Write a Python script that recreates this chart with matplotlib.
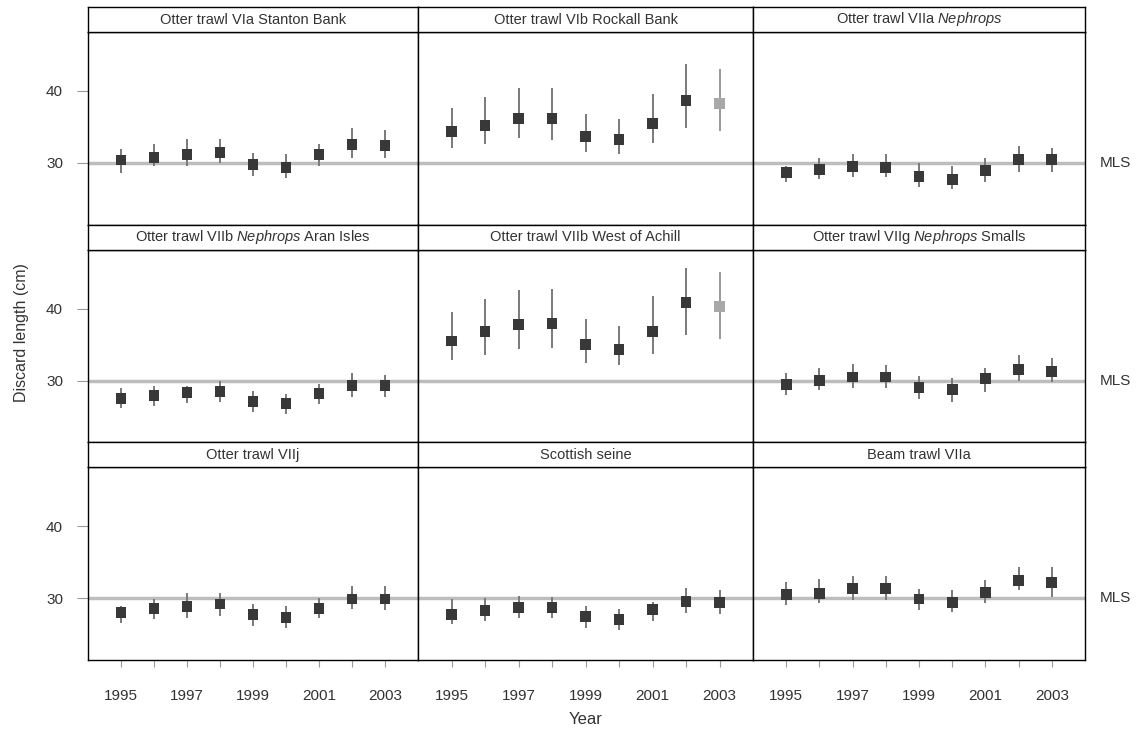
import numpy as np
import matplotlib.pyplot as plt
from matplotlib.transforms import blended_transform_factory

plt.rcParams['font.family'] = ['Liberation Sans', 'DejaVu Sans']
plt.rcParams['mathtext.fontset'] = 'custom'
plt.rcParams['mathtext.rm'] = 'Liberation Sans'
plt.rcParams['mathtext.it'] = 'Liberation Sans:italic'

years = [1995, 1996, 1997, 1998, 1999, 2000, 2001, 2002, 2003]
mls = 30

titles = [
    "Otter trawl VIa Stanton Bank",
    "Otter trawl VIb Rockall Bank",
    r"Otter trawl VIIa $\mathit{Nephrops}$",
    r"Otter trawl VIIb $\mathit{Nephrops}$ Aran Isles",
    "Otter trawl VIIb West of Achill",
    r"Otter trawl VIIg $\mathit{Nephrops}$ Smalls",
    "Otter trawl VIIj",
    "Scottish seine",
    "Beam trawl VIIa",
]

# mean discard length, lower and upper interval (cm)
stanton_mean = [30.4, 30.8, 31.2, 31.4, 29.8, 29.35, 31.1, 32.6, 32.4]
stanton_lo = [28.6, 29.6, 29.6, 30.0, 28.2, 27.9, 29.6, 30.7, 30.7]
stanton_hi = [31.9, 32.6, 33.3, 33.3, 31.4, 31.2, 32.6, 34.9, 34.6]

rockall_mean = [34.3, 35.2, 36.2, 36.2, 33.7, 33.3, 35.5, 38.7, 38.2]
rockall_lo = [32.1, 32.6, 33.5, 33.2, 31.5, 31.3, 32.8, 34.9, 34.4]
rockall_hi = [37.6, 39.2, 40.4, 40.4, 36.8, 36.1, 39.6, 43.7, 43.0]

viia_neph_mean = [28.7, 29.1, 29.5, 29.3, 28.1, 27.7, 29.0, 30.5, 30.5]
viia_neph_lo = [27.3, 27.8, 28.0, 28.1, 26.7, 26.3, 27.4, 28.7, 28.7]
viia_neph_hi = [29.5, 30.7, 31.2, 31.2, 30.0, 29.5, 30.7, 32.3, 32.1]

aran_mean = [27.5, 27.9, 28.3, 28.5, 27.1, 26.8, 28.2, 29.3, 29.3]
aran_lo = [26.2, 26.4, 26.9, 27.0, 25.6, 25.4, 26.8, 27.7, 27.7]
aran_hi = [29.0, 29.3, 29.3, 30.0, 28.6, 28.2, 29.5, 31.0, 30.8]

achill_mean = [35.5, 36.8, 37.8, 37.9, 35.0, 34.3, 36.8, 40.9, 40.3]
achill_lo = [32.9, 33.6, 34.4, 34.5, 32.4, 32.1, 33.7, 36.4, 35.8]
achill_hi = [39.5, 41.4, 42.6, 42.7, 38.5, 37.6, 41.7, 45.7, 45.1]

smalls_mean = [29.5, 30.0, 30.5, 30.5, 29.1, 28.8, 30.3, 31.5, 31.3]
smalls_lo = [28.0, 28.7, 28.9, 28.9, 27.5, 27.0, 28.4, 30.0, 29.8]
smalls_hi = [31.1, 31.8, 32.3, 32.2, 30.7, 30.3, 31.8, 33.5, 33.2]

viij_mean = [28.0, 28.6, 28.9, 29.2, 27.8, 27.3, 28.6, 29.9, 29.9]
viij_lo = [26.6, 27.1, 27.3, 27.5, 26.2, 25.8, 27.2, 28.5, 28.4]
viij_hi = [28.9, 29.9, 30.7, 30.7, 29.2, 28.9, 30.0, 31.7, 31.7]

seine_mean = [27.8, 28.3, 28.7, 28.7, 27.4, 27.1, 28.4, 29.6, 29.4]
seine_lo = [26.4, 26.9, 27.2, 27.3, 25.9, 25.6, 26.9, 28.0, 27.8]
seine_hi = [29.9, 30.0, 30.3, 30.2, 28.9, 28.5, 29.5, 31.4, 31.1]

beam_mean = [30.5, 30.6, 31.4, 31.4, 29.9, 29.4, 30.8, 32.5, 32.2]
beam_lo = [29.0, 29.4, 29.7, 29.8, 28.4, 28.1, 29.4, 31.1, 30.2]
beam_hi = [32.2, 32.7, 33.1, 33.1, 31.3, 31.1, 32.5, 34.4, 34.3]

panels = [
    (stanton_mean, stanton_lo, stanton_hi),
    (rockall_mean, rockall_lo, rockall_hi),
    (viia_neph_mean, viia_neph_lo, viia_neph_hi),
    (aran_mean, aran_lo, aran_hi),
    (achill_mean, achill_lo, achill_hi),
    (smalls_mean, smalls_lo, smalls_hi),
    (viij_mean, viij_lo, viij_hi),
    (seine_mean, seine_lo, seine_hi),
    (beam_mean, beam_lo, beam_hi),
]
# panels where the last year is drawn faded
faded_last = [1, 4]

W, H = 1141, 734
fig = plt.figure(figsize=(W / 100, H / 100), dpi=100)

col_x = [88, 418, 753, 1085]
top = 7
row_h = 217.7
strip_h = 25

for i, (m, lo, hi) in enumerate(panels):
    r, c = divmod(i, 3)
    x0, x1 = col_x[c], col_x[c + 1]
    y_strip = top + r * row_h
    y_plot = y_strip + strip_h
    y_bot = top + (r + 1) * row_h

    ax = fig.add_axes([x0 / W, 1 - y_bot / H, (x1 - x0) / W, (y_bot - y_plot) / H])
    sax = fig.add_axes([x0 / W, 1 - y_plot / H, (x1 - x0) / W, strip_h / H])
    sax.set_xticks([])
    sax.set_yticks([])
    sax.text(0.5, 0.5, titles[i], ha='center', va='center', fontsize=10.5, color='#333333')
    for s in sax.spines.values():
        s.set_linewidth(1.0)

    ax.axhline(mls, color='#bdbdbd', lw=2.5, zorder=1)
    y = np.array(years)
    cols = ['#383838'] * len(years)
    bcols = ['#7a7a7a'] * len(years)
    if i in faded_last:
        cols[-1] = '#a8a8a8'
        bcols[-1] = '#9a9a9a'
    ax.vlines(y, lo, hi, colors=bcols, lw=1.4, zorder=2)
    ax.scatter(y, m, marker='s', s=62, c=cols, zorder=3, linewidths=0)

    ax.set_xlim(1994.0, 2004.0)
    ax.set_ylim(21.4, 48.2)
    for s in ax.spines.values():
        s.set_linewidth(1.0)

    ax.set_yticks([30, 40])
    ax.set_xticks(years)
    ax.set_xticklabels([str(yr) if yr % 2 == 1 else '' for yr in years])
    ax.tick_params(axis='both', labelsize=11, labelcolor='#333333', color='#999999',
                   direction='out')
    ax.tick_params(axis='x', length=5, pad=16)
    ax.tick_params(axis='y', length=8, pad=10)
    if c != 0:
        ax.tick_params(axis='y', left=False, labelleft=False)
    if r != 2:
        ax.tick_params(axis='x', bottom=False, labelbottom=False)
    if c == 2:
        tr = blended_transform_factory(ax.transAxes, ax.transData)
        ax.text(1.045, mls, 'MLS', transform=tr, ha='left', va='center',
                fontsize=11, color='#333333')

fig.text(22 / W, 1 - 333 / H, 'Discard length (cm)', rotation=90, ha='center',
         va='center', fontsize=11.5, color='#333333')
fig.text(586 / W, 1 - 719 / H, 'Year', ha='center', va='center', fontsize=12,
         color='#333333')

fig.savefig('out.png', dpi=100)
